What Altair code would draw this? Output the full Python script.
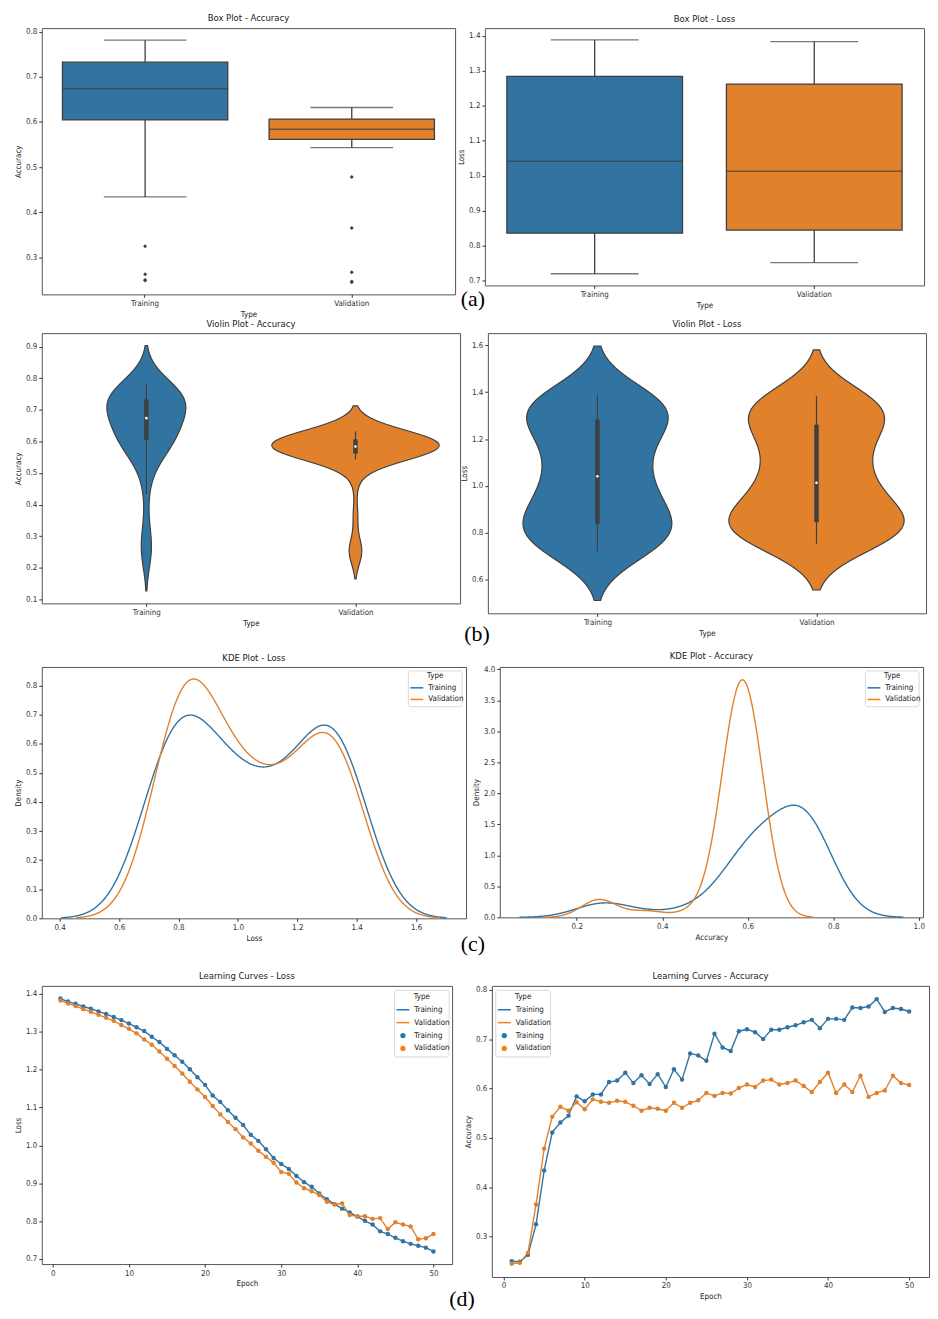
import json
import altair as alt
import numpy as np
import pandas as pd

# ---------------- data ----------------
epochs = list(range(1, 51))
types = ["Training", "Validation"]
legend_title = "Type"

train_loss = [1.388, 1.380, 1.374, 1.367, 1.361, 1.354, 1.347, 1.339, 1.331, 1.322,
              1.312, 1.302, 1.287, 1.273, 1.255, 1.238, 1.221, 1.201, 1.180, 1.160,
              1.132, 1.115, 1.093, 1.073, 1.054, 1.028, 1.012, 0.990, 0.967, 0.951,
              0.938, 0.919, 0.903, 0.891, 0.873, 0.858, 0.845, 0.833, 0.823, 0.812,
              0.801, 0.791, 0.773, 0.766, 0.756, 0.747, 0.740, 0.735, 0.730, 0.720]
val_loss = [1.383, 1.375, 1.368, 1.360, 1.353, 1.345, 1.337, 1.329, 1.318, 1.308,
            1.296, 1.280, 1.266, 1.248, 1.229, 1.210, 1.190, 1.168, 1.148, 1.128,
            1.104, 1.082, 1.062, 1.043, 1.021, 1.005, 0.986, 0.970, 0.954, 0.930,
            0.925, 0.902, 0.887, 0.879, 0.869, 0.851, 0.844, 0.847, 0.816, 0.813,
            0.813, 0.806, 0.808, 0.779, 0.797, 0.791, 0.786, 0.752, 0.755, 0.766]
train_acc = [0.250, 0.249, 0.263, 0.325, 0.434, 0.511, 0.531, 0.545, 0.584, 0.574,
             0.588, 0.588, 0.613, 0.616, 0.632, 0.611, 0.627, 0.609, 0.629, 0.603,
             0.639, 0.618, 0.671, 0.667, 0.656, 0.711, 0.683, 0.676, 0.716, 0.720,
             0.714, 0.700, 0.719, 0.719, 0.724, 0.728, 0.734, 0.739, 0.722, 0.741,
             0.741, 0.739, 0.764, 0.763, 0.766, 0.781, 0.755, 0.763, 0.761, 0.756]
val_acc = [0.245, 0.247, 0.267, 0.365, 0.478, 0.543, 0.563, 0.555, 0.572, 0.558,
           0.578, 0.573, 0.571, 0.575, 0.573, 0.565, 0.555, 0.561, 0.559, 0.555,
           0.571, 0.561, 0.571, 0.576, 0.591, 0.585, 0.591, 0.590, 0.601, 0.608,
           0.603, 0.616, 0.618, 0.608, 0.611, 0.616, 0.605, 0.593, 0.613, 0.632,
           0.591, 0.608, 0.593, 0.626, 0.583, 0.591, 0.596, 0.626, 0.611, 0.607]

panel_labels = ["(a)", "(b)", "(c)", "(d)"]

acc_ticks = [0.3, 0.4, 0.5, 0.6, 0.7, 0.8]
loss_ticks = [0.7, 0.8, 0.9, 1.0, 1.1, 1.2, 1.3, 1.4]
violin_acc_ticks = [0.1, 0.2, 0.3, 0.4, 0.5, 0.6, 0.7, 0.8, 0.9]
violin_loss_ticks = [0.6, 0.8, 1.0, 1.2, 1.4, 1.6]
kde_loss_x_ticks = [0.4, 0.6, 0.8, 1.0, 1.2, 1.4, 1.6]
kde_loss_y_ticks = [0.0, 0.1, 0.2, 0.3, 0.4, 0.5, 0.6, 0.7, 0.8]
kde_acc_x_ticks = [0.2, 0.4, 0.6, 0.8, 1.0]
kde_acc_y_ticks = [0.0, 0.5, 1.0, 1.5, 2.0, 2.5, 3.0, 3.5, 4.0]
epoch_ticks = [0, 10, 20, 30, 40, 50]
kde_loss_ylim = [0, 0.864]
kde_acc_ylim = [0, 4.04]

# ---------------- style ----------------
LINE = ["#1f77b4", "#ff7f0e"]
FILL = ["#3274a1", "#e1812c"]
GRAY = "#3f3f3f"
FONT = "Liberation Sans Narrow, DejaVu Sans Condensed, Liberation Sans, sans-serif"
LAB = 8


def long_df(a, b):
    return pd.DataFrame({"Epoch": epochs + epochs,
                         "Type": [types[0]] * len(a) + [types[1]] * len(b),
                         "value": a + b})


acc_df = long_df(train_acc, val_acc)
loss_df = long_df(train_loss, val_loss)


def scott(a):
    a = np.asarray(a, float)
    return float(a.std(ddof=1) * len(a) ** (-0.2))


def padded(lo, hi, f=0.05):
    r = hi - lo
    return [float(lo - f * r), float(hi + f * r)]


def support(arrs, cut):
    lo = min(min(a) - cut * scott(a) for a in arrs)
    hi = max(max(a) + cut * scott(a) for a in arrs)
    return lo, hi


def axis(title, values=None, fmt=None, **kw):
    args = dict(title=title, grid=False, domain=False, tickSize=3, tickColor="#333",
                labelColor="#333", titleColor="#222", labelFontSize=LAB, titleFontSize=LAB,
                titleFontWeight="normal", labelPadding=2, titlePadding=3)
    if values is not None:
        args["values"] = values
    if fmt:
        args["format"] = fmt
    args.update(kw)
    return alt.Axis(**args)


def qscale(dom):
    return alt.Scale(domain=dom, nice=False, zero=False)


fill_scale = alt.Scale(domain=types, range=FILL)
line_scale = alt.Scale(domain=types, range=LINE)
idx_expr = f"indexof({json.dumps(types)}, datum.Type)"


def stats_chain(df):
    base = alt.Chart(df)
    stats = base.transform_joinaggregate(
        q1="q1(value)", q3="q3(value)", med="median(value)", groupby=["Type"]
    ).transform_calculate(
        lo="datum.q1 - 1.5 * (datum.q3 - datum.q1)",
        hi="datum.q3 + 1.5 * (datum.q3 - datum.q1)")
    inner = stats.transform_filter(
        "datum.value >= datum.lo && datum.value <= datum.hi"
    ).transform_aggregate(
        wmin="min(value)", wmax="max(value)", groupby=["Type", "q1", "q3", "med"])
    outl = stats.transform_filter("datum.value < datum.lo || datum.value > datum.hi")
    return inner, outl


def kde_chain(ch, arrs, cut):
    bws = [scott(a) for a in arrs]
    bw_expr = f"datum.Type == '{types[0]}' ? {bws[0]} : {bws[1]}"
    zlo = float(min(min(a) / b for a, b in zip(arrs, bws)) - cut - 1)
    zhi = float(max(max(a) / b for a, b in zip(arrs, bws)) + cut + 1)
    return (ch.transform_calculate(bw=bw_expr)
            .transform_joinaggregate(vmin="min(value)", vmax="max(value)", n="count()",
                                     groupby=["Type"])
            .transform_joinaggregate(N="count()")
            .transform_calculate(z="datum.value / datum.bw")
            .transform_density("z", groupby=["Type", "bw", "vmin", "vmax", "n", "N"],
                               as_=["z", "dens"], bandwidth=1, extent=[zlo, zhi], steps=900)
            .transform_calculate(value="datum.z * datum.bw", d="datum.dens / datum.bw")
            .transform_filter(f"datum.value >= datum.vmin - {cut} * datum.bw && "
                              f"datum.value <= datum.vmax + {cut} * datum.bw"))


def label_layer(i, dx, dy):
    return alt.Chart(pd.DataFrame({"label": [panel_labels[i]]})).mark_text(
        font="Liberation Serif", fontSize=22, align="center", baseline="middle", color="black"
    ).encode(text="label:N", x=alt.value(dx), y=alt.value(dy))


def legend_layers(bx, by, bw, bh, entries, title_off, row0, step):
    """A matplotlib-style legend box: frame, centred title, then one row per entry."""
    tdf = pd.DataFrame({"label": [legend_title]})
    out = [
        alt.Chart(tdf).mark_rect(fill="white", fillOpacity=0.85, stroke="#cfcfcf",
                                 strokeWidth=0.8, cornerRadius=2).encode(
            x=alt.value(bx), x2=alt.value(bx + bw), y=alt.value(by), y2=alt.value(by + bh)),
        alt.Chart(tdf).mark_text(fontSize=LAB, align="center", baseline="middle",
                                 color="#222").encode(
            text="label:N", x=alt.value(bx + bw / 2), y=alt.value(by + title_off)),
    ]
    for i, (lab, kind, col) in enumerate(entries):
        yy = by + row0 + i * step
        d = pd.DataFrame({"label": [lab]})
        if kind == "line":
            sym = alt.Chart(d).mark_rule(color=col, strokeWidth=1.5).encode(
                x=alt.value(bx + 2), x2=alt.value(bx + 15), y=alt.value(yy))
        else:
            sym = alt.Chart(d).mark_circle(color=col, size=28, opacity=1).encode(
                x=alt.value(bx + 8.5), y=alt.value(yy))
        txt = alt.Chart(d).mark_text(fontSize=LAB, align="left", baseline="middle",
                                     color="#222").encode(
            text="label:N", x=alt.value(bx + 20), y=alt.value(yy))
        out += [sym, txt]
    return out


def box_panel(df, title, ytitle, yticks, w, h, extra=()):
    ydom = padded(df["value"].min(), df["value"].max())
    X = alt.X("Type:N", scale=alt.Scale(domain=types, paddingInner=0.2, paddingOuter=0.1),
              axis=axis("Type", labelAngle=0))

    def Y(f):
        return alt.Y(f"{f}:Q", scale=qscale(ydom), axis=axis(ytitle, yticks, ".1f"))

    inner, outl = stats_chain(df)
    boxw = 0.4 * w
    whisk = inner.mark_rule(color=GRAY, strokeWidth=1.3).encode(x=X, y=Y("wmin"), y2="wmax")
    cap_lo = inner.mark_tick(color=GRAY, size=boxw / 2, thickness=1.3).encode(x=X, y=Y("wmin"))
    cap_hi = inner.mark_tick(color=GRAY, size=boxw / 2, thickness=1.3).encode(x=X, y=Y("wmax"))
    box = inner.mark_bar(stroke=GRAY, strokeWidth=1.3, opacity=1).encode(
        x=X, y=Y("q1"), y2="q3", color=alt.Color("Type:N", scale=fill_scale, legend=None))
    med = inner.mark_tick(color=GRAY, size=boxw, thickness=1.5).encode(x=X, y=Y("med"))
    pts = outl.mark_point(shape="diamond", filled=True, color=GRAY, size=16, opacity=1).encode(
        x=X, y=Y("value"))
    return alt.layer(whisk, cap_lo, cap_hi, box, med, pts, *extra).properties(
        width=w, height=h, title=title)


def violin_panel(df, arrs, title, ytitle, yticks, w, h, extra=()):
    lo, hi = support(arrs, 2)
    ydom = padded(lo, hi)
    lab = f"datum.value == 0 ? '{types[0]}' : '{types[1]}'"

    def X(f):
        return alt.X(f"{f}:Q", scale=qscale([-0.5, 1.5]),
                     axis=axis("Type", [0, 1], labelExpr=lab))

    def Y(f):
        return alt.Y(f"{f}:Q", scale=qscale(ydom), axis=axis(ytitle, yticks, ".1f"))

    area = kde_chain(alt.Chart(df), arrs, 2).transform_joinaggregate(
        dmax="max(d)"
    ).transform_calculate(
        idx=idx_expr,
    ).transform_calculate(
        xl="datum.idx - datum.d / datum.dmax * 0.4",
        xr="datum.idx + datum.d / datum.dmax * 0.4",
    ).mark_area(orient="horizontal", stroke=GRAY, strokeWidth=1.2, opacity=1).encode(
        y=Y("value"), x=X("xl"), x2="xr",
        color=alt.Color("Type:N", scale=fill_scale, legend=None))
    inner, _ = stats_chain(df)
    inner = inner.transform_calculate(idx=idx_expr)
    whisk = inner.mark_rule(color=GRAY, strokeWidth=1.2).encode(x=X("idx"), y=Y("wmin"), y2="wmax")
    box = inner.mark_rule(color=GRAY, strokeWidth=4.5).encode(x=X("idx"), y=Y("q1"), y2="q3")
    med = inner.mark_circle(color="white", size=7, opacity=1).encode(x=X("idx"), y=Y("med"))
    return alt.layer(area, whisk, box, med, *extra).properties(width=w, height=h, title=title)


def kde_panel(df, arrs, title, xtitle, xticks, ylim, yticks, w, h, extra=()):
    lo, hi = support(arrs, 3)
    xdom = padded(lo, hi)
    line = kde_chain(alt.Chart(df), arrs, 3).transform_calculate(
        dn="datum.d * datum.n / datum.N"
    ).mark_line(strokeWidth=1.4).encode(
        x=alt.X("value:Q", scale=qscale(xdom), axis=axis(xtitle, xticks, ".1f")),
        y=alt.Y("dn:Q", scale=qscale(ylim), axis=axis("Density", yticks, ".1f")),
        color=alt.Color("Type:N", scale=line_scale, legend=None))
    entries = [(t, "line", c) for t, c in zip(types, LINE)]
    leg = legend_layers(w - 58, 4, 54, 36, entries, 5.5, 17, 11.7)
    return alt.layer(line, *leg, *extra).properties(width=w, height=h, title=title)


def curve_panel(df, title, ytitle, yticks, bx, w, h, extra=()):
    xdom = padded(min(epochs), max(epochs))
    ydom = padded(df["value"].min(), df["value"].max())
    X = alt.X("Epoch:Q", scale=qscale(xdom), axis=axis("Epoch", epoch_ticks, "d"))
    Y = alt.Y("value:Q", scale=qscale(ydom), axis=axis(ytitle, yticks, ".1f"))
    base = alt.Chart(df)
    line = base.mark_line(strokeWidth=1.4).encode(
        x=X, y=Y, color=alt.Color("Type:N", scale=line_scale, legend=None))
    pts = base.mark_circle(size=20, opacity=1).encode(
        x=X, y=Y, color=alt.Color("Type:N", scale=line_scale, legend=None))
    entries = ([(t, "line", c) for t, c in zip(types, LINE)] +
               [(t, "point", c) for t, c in zip(types, LINE)])
    bxx = bx if bx >= 0 else w + bx
    leg = legend_layers(bxx, 4.5, 55, 67, entries, 6.8, 19.5, 13)
    return alt.layer(line, pts, *leg, *extra).properties(width=w, height=h, title=title)


# ---------------- panels ----------------
box_acc = box_panel(acc_df, "Box Plot - Accuracy", "Accuracy", acc_ticks, 416, 268)
box_loss = box_panel(loss_df, "Box Plot - Loss", "Loss", loss_ticks, 442, 259,
                     extra=[label_layer(0, -12, 273)])

vio_acc = violin_panel(acc_df, [train_acc, val_acc], "Violin Plot - Accuracy", "Accuracy",
                       violin_acc_ticks, 421, 272)
vio_loss = violin_panel(loss_df, [train_loss, val_loss], "Violin Plot - Loss", "Loss",
                        violin_loss_ticks, 441, 282, extra=[label_layer(1, -11, 303)])

kde_loss = kde_panel(loss_df, [train_loss, val_loss], "KDE Plot - Loss", "Loss", kde_loss_x_ticks,
                     kde_loss_ylim, kde_loss_y_ticks, 427, 253)
kde_acc = kde_panel(acc_df, [train_acc, val_acc], "KDE Plot - Accuracy", "Accuracy", kde_acc_x_ticks,
                    kde_acc_ylim, kde_acc_y_ticks, 426, 252,
                    extra=[label_layer(2, -27, 279)])

lc_loss = curve_panel(loss_df, "Learning Curves - Loss", "Loss", loss_ticks, -58, 413, 280)
lc_acc = curve_panel(acc_df, "Learning Curves - Accuracy", "Accuracy", acc_ticks, 4, 440, 293,
                     extra=[label_layer(3, -30, 315)])

row_a = alt.hconcat(box_acc, box_loss, spacing=30, bounds="flush")
row_b = alt.hconcat(vio_acc, vio_loss, spacing=28, bounds="flush")
row_c = alt.hconcat(kde_loss, kde_acc, spacing=34, bounds="flush")
row_d = alt.hconcat(lc_loss, lc_acc, spacing=40, bounds="flush")

chart = alt.vconcat(
    row_a,
    alt.vconcat(row_b, alt.vconcat(row_c, row_d, spacing=14), spacing=4),
    spacing=-1,
).properties(
    padding={"left": 6, "top": 0, "right": 0, "bottom": 0}
).configure(
    font=FONT
).configure_view(
    stroke="#555", strokeWidth=1
).configure_title(
    fontSize=9.5, fontWeight="normal", anchor="middle", frame="group", offset=5,
    color="#222", font=FONT
).configure_axis(
    labelFont=FONT, titleFont=FONT
)

chart.save("out.html", embed_options={"renderer": "svg", "actions": False})
